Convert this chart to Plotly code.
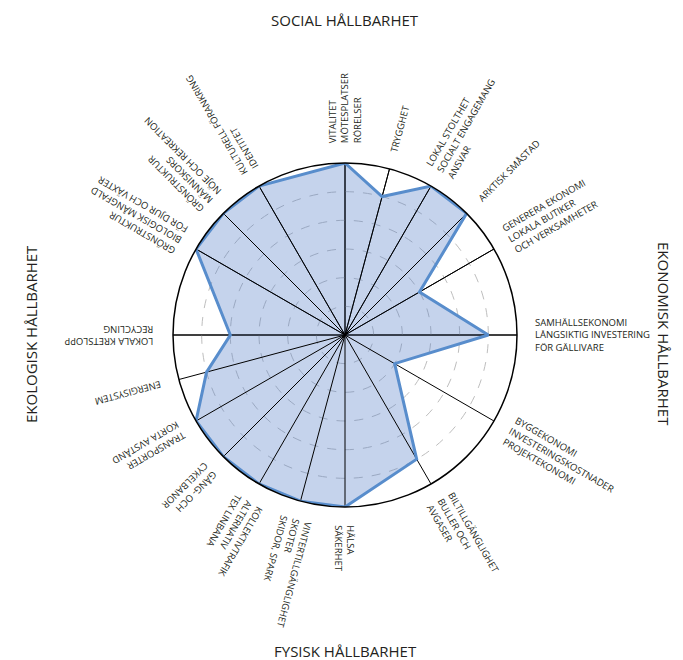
import math
import plotly.graph_objects as go

# spoke angles (degrees, counter-clockwise from east) and the score on each spoke (0-6)
angles = [90, 75, 60, 45, 30, 0, -30, -60, -90, -105, -120, -135, -150, -165, 180, 150, 135, 120]
scores = [6, 5, 6, 6, 3, 5, 2, 5, 6, 6, 6, 6, 6, 5, 4, 6, 6, 6]
labels = [
    "VITALITET<br>MÖTESPLATSER<br>RÖRELSER",
    "TRYGGHET",
    "LOKAL STOLTHET<br>SOCIALT ENGAGEMANG<br>ANSVAR",
    "ARKTISK SMÅSTAD",
    "GENERERA EKONOMI<br>LOKALA BUTIKER<br>OCH VERKSAMHETER",
    "SAMHÄLLSEKONOMI<br>LÅNGSIKTIG INVESTERING<br>FÖR GÄLLIVARE",
    "BYGGEKONOMI<br>INVESTERINGSKOSTNADER<br>PROJEKTEKONOMI",
    "BILTILLGÄNGLIGHET<br>BULLER OCH<br>AVGASER",
    "HÄLSA<br>SÄKERHET",
    "VINTERTILLGÄNGLIGHET<br>SKOTER<br>SKIDOR, SPARK",
    "KOLLEKTIVTRAFIK<br>ALTERNATIV<br>TEX LINBANA",
    "GÅNG- OCH<br>CYKELBANOR",
    "TRANSPORTER<br>KORTA AVSTÅND",
    "ENERGISYSTEM",
    "LOKALA KRETSLOPP<br>RECYCLING",
    "GRÖNSTRUKTUR<br>BIOLOGISK MÅNGFALD<br>FÖR DJUR OCH VÄXTER",
    "GRÖNSTRUKTUR<br>MÄNNISKORS<br>NÖJE OCH REKREATION",
    "KULTURELL FÖRANKRING<br>IDENTITET",
]
r_max = 6
grid_ticks = [1, 2, 3, 4, 5]

titles = ["SOCIAL HÅLLBARHET", "EKONOMISK HÅLLBARHET", "FYSISK HÅLLBARHET", "EKOLOGISK HÅLLBARHET"]

W, H = 683, 660
cx, cy, R = 345, 335, 172   # pixel centre / radius of the polar plot
fs = 9.5

def text_w(s):
    # rough width of a capital-letter line in Open Sans
    w = 0
    for c in s:
        if c == " ":
            w += 0.26
        elif c in "I,.-":
            w += 0.29
        elif c in "MW":
            w += 0.93
        else:
            w += 0.64
    return w * fs

fig = go.Figure()

r_closed = scores + [scores[0]]
t_closed = angles + [angles[0]]

# filled area (semi transparent so the dashed rings show through)
fig.add_trace(go.Scatterpolar(
    r=r_closed, theta=t_closed, mode="none", fill="toself",
    fillcolor="rgba(89,129,201,0.35)", hoverinfo="skip",
))

# black spokes drawn over the filled area
sp_r, sp_t = [], []
for a in angles:
    sp_r += [0, r_max, None]
    sp_t += [a, a, None]
fig.add_trace(go.Scatterpolar(
    r=sp_r, theta=sp_t, mode="lines",
    line=dict(color="black", width=1), hoverinfo="skip",
))

# outline on top
fig.add_trace(go.Scatterpolar(
    r=r_closed, theta=t_closed, mode="lines",
    line=dict(color="rgb(88,141,204)", width=3), hoverinfo="skip",
))

ann = []
r0 = 189
for a, lab in zip(angles, labels):
    w = max(text_w(s) for s in lab.split("<br>"))
    d = r0 + w / 2
    px_ = cx + d * math.cos(math.radians(a))
    py_ = cy - d * math.sin(math.radians(a))
    ann.append(dict(
        x=px_ / W, y=1 - py_ / H, xref="paper", yref="paper",
        text=lab, showarrow=False, textangle=-a, align="left",
        xanchor="center", yanchor="middle",
        font=dict(family="Open Sans", size=fs, color="#231f20"),
    ))

tfont = dict(family="Open Sans", size=15, color="#231f20")
ann.append(dict(x=cx / W, y=1 - 20 / H, text=titles[0], textangle=0, font=tfont))
ann.append(dict(x=664 / W, y=1 - 334 / H, text=titles[1], textangle=90, font=tfont))
ann.append(dict(x=cx / W, y=1 - 651 / H, text=titles[2], textangle=0, font=tfont))
ann.append(dict(x=31 / W, y=1 - 334 / H, text=titles[3], textangle=-90, font=tfont))
for a in ann[-4:]:
    a.update(xref="paper", yref="paper", showarrow=False, xanchor="center", yanchor="middle")

fig.update_layout(
    width=W, height=H,
    margin=dict(l=0, r=0, t=0, b=0),
    paper_bgcolor="white",
    showlegend=False,
    annotations=ann,
    polar=dict(
        domain=dict(x=[(cx - R) / W, (cx + R) / W], y=[1 - (cy + R) / H, 1 - (cy - R) / H]),
        bgcolor="white",
        radialaxis=dict(
            range=[0, r_max], tickvals=grid_ticks, showticklabels=False, ticks="",
            showline=False, gridcolor="rgb(190,190,190)", griddash="dash", gridwidth=1,
        ),
        angularaxis=dict(
            rotation=0, direction="counterclockwise",
            tickmode="array", tickvals=angles, showticklabels=False, ticks="",
            showgrid=True, gridcolor="black", gridwidth=1,
            showline=True, linecolor="black", linewidth=1.5,
        ),
    ),
)

# page body has an 8px default margin, drop it so the figure sits at the top-left
fig.write_html("out.html", config={"displayModeBar": False},
               post_script="document.body.style.margin='0';")
